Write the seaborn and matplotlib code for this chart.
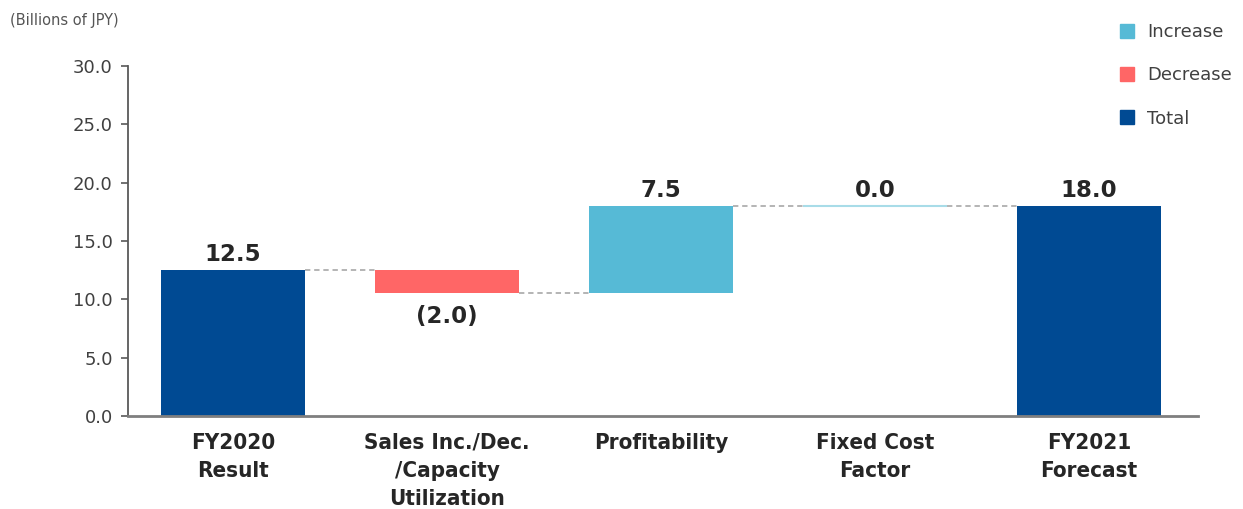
import matplotlib
matplotlib.use("Agg")
import matplotlib.pyplot as plt
from matplotlib.lines import Line2D
import seaborn as sns
import numpy as np
import pandas as pd

categories = ["FY2020\nResult", "Sales Inc./Dec.\n/Capacity\nUtilization", "Profitability",
              "Fixed Cost\nFactor", "FY2021\nForecast"]
changes = [12.5, -2.0, 7.5, 0.0, 18.0]
kinds = ["Total", "Decrease", "Increase", "Increase", "Total"]
value_labels = ["12.5", "(2.0)", "7.5", "0.0", "18.0"]
yticks = [0, 5, 10, 15, 20, 25, 30]
legend_labels = ["Increase", "Decrease", "Total"]
unit_label = "(Billions of JPY)"

colors = {"Increase": "#56BAD6", "Decrease": "#FF6666", "Total": "#004A93"}

# compute bottoms/heights
bottoms, heights, tops = [], [], []
running = 0.0
for c, k in zip(changes, kinds):
    if k == "Total":
        b, h = 0.0, c
        running = c
    else:
        start = running
        running = running + c
        b, h = min(start, running), abs(c)
    bottoms.append(b); heights.append(h); tops.append(b + h)

df = pd.DataFrame({"cat": categories, "height": heights, "kind": kinds})

sns.set_style("white")
plt.rcParams["font.family"] = ["DejaVu Sans"]

fig = plt.figure(figsize=(12.43, 5.09), dpi=100)
ax = fig.add_axes([0.103, 0.183, 0.861, 0.687])

width = 0.67
sns.barplot(data=df, x="cat", y="height", hue="cat",
            palette=[colors[k] for k in kinds], width=width, saturation=1,
            legend=False, ax=ax, linewidth=0)

for p, b, k, h in zip(ax.patches, bottoms, kinds, heights):
    p.set_y(b)
    if h == 0:
        p.set_edgecolor("#A8DCE8")
        p.set_linewidth(1.5)

# connectors
levels = []
running = 0.0
for i, (c, k) in enumerate(zip(changes, kinds)):
    running = c if k == "Total" else running + c
    levels.append(running)
for i in range(len(categories) - 1):
    ax.plot([i + width / 2, i + 1 - width / 2], [levels[i], levels[i]],
            color="#A0A0A0", lw=1.1, ls=(0, (3.5, 2.5)), zorder=1)

# value labels
for i, (lab, c, k) in enumerate(zip(value_labels, changes, kinds)):
    if c < 0:
        ax.annotate(lab, (i, bottoms[i]), xytext=(0, -8), textcoords="offset points",
                    ha="center", va="top", fontsize=16.5, fontweight="bold",
                    color="#262626")
    else:
        ax.annotate(lab, (i, tops[i]), xytext=(0, 3), textcoords="offset points",
                    ha="center", va="bottom", fontsize=16.5, fontweight="bold",
                    color="#262626")

ax.set_xlim(-0.49, 4.51)
ax.set_ylim(0, 30)
ax.set_yticks(yticks)
ax.set_yticklabels([f"{v:.1f}" for v in yticks], fontsize=13, color="#404040")
ax.set_xlabel("")
ax.set_ylabel("")
ax.set_xticks(range(len(categories)))
ax.set_xticklabels(categories, fontsize=16, fontweight="bold", color="#262626",
                   fontstretch="condensed", linespacing=1.5)
ax.tick_params(axis="x", length=0, pad=12)
ax.tick_params(axis="y", length=5, width=1.2, color="#595959", direction="out", pad=6, left=True)

for s in ["top", "right"]:
    ax.spines[s].set_visible(False)
ax.spines["left"].set_color("#595959")
ax.spines["left"].set_linewidth(1.3)
ax.spines["bottom"].set_color("#7F7F7F")
ax.spines["bottom"].set_linewidth(2)

fig.text(10 / 1243, 1 - 20 / 509, unit_label, fontsize=10.5, color="#555555",
         va="center", ha="left")

handles = [Line2D([], [], marker="s", ls="none", markersize=10,
                  markerfacecolor=colors[k], markeredgecolor=colors[k]) for k in legend_labels]
fig.legend(handles, legend_labels, loc="upper left",
           bbox_to_anchor=(1109 / 1243, 1 - 14 / 509), frameon=False,
           fontsize=13, labelcolor="#404040", labelspacing=1.4,
           handletextpad=0.6, handlelength=1.0, borderpad=0)

fig.savefig("out.png", dpi=100)
